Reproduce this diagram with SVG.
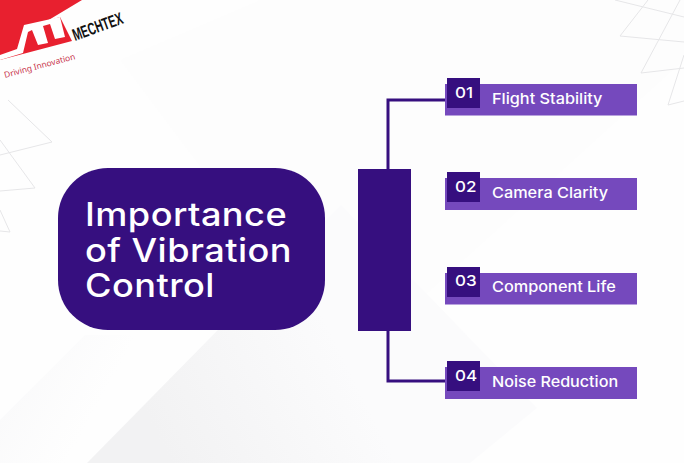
<svg xmlns="http://www.w3.org/2000/svg" width="684" height="463" viewBox="0 0 684 463">
<style>
text{font-family:"Inter","Noto Sans",sans-serif}
.card{fill:#7549bd}
.dark{fill:#360f7f}
.num{font-size:14.8px;font-weight:500;fill:#fff}
.lab{font-size:14.8px;font-weight:500;fill:#fff}
.title{font-size:32px;font-weight:500;letter-spacing:.4px;fill:#fff}
.conn{fill:none;stroke:#360f7f;stroke-width:3}
.bgl{fill:none;stroke:#e6e6e8;stroke-width:1}
</style>
<defs>
<linearGradient id="fade" x1="150" y1="420" x2="330" y2="330" gradientUnits="userSpaceOnUse"><stop offset="0" stop-color="#f2f2f3"/><stop offset="1" stop-color="#fbfbfc"/></linearGradient>
<linearGradient id="fadeL" x1="0" y1="370" x2="90" y2="420" gradientUnits="userSpaceOnUse"><stop offset="0" stop-color="#f9f9fa"/><stop offset="1" stop-color="#fefefe"/></linearGradient>
</defs>
<g id="background">
<rect width="684" height="463" fill="#fefefe"/>
<polygon points="120,60 260,0 684,0 684,60 420,300 300,300" fill="#fdfdfd"/>
<polygon points="0,420 85,335 160,335 70,463 0,463" fill="url(#fadeL)"/>
<polygon points="87,463 341,205 537,408 470,463" fill="url(#fade)"/>
<path class="bgl" d="M615,0 684,17M648,0 620,36 684,42M680,0 641,73 684,68M684,55 668,105 684,101"/>
<path class="bgl" d="M8,100 52,142 0,155M0,140 35,188 0,191M0,210 10,232 0,231"/>
</g>
<g id="logo">
<polygon points="0,0 82,0 47,21 60,17 72,41 0,60" fill="#e8202f"/>
<polygon points="0,55 17,49 24,25 60,17 65,37 55,39 50,24 43,26 48,43 38,45 32,30 28,32 23,53 0,60" fill="#fff"/>
<text transform="translate(75,41) rotate(-20) scale(.63,1)" font-size="17" font-weight="700" fill="#111" style="font-family:'Liberation Sans',sans-serif">MECHTEX</text>
<text transform="translate(5,78) rotate(-15)" font-size="8.4" fill="#c8334a" style="font-family:'Noto Sans',sans-serif">Driving Innovation</text>
</g>
<g id="connectors">
<path class="conn" d="M388,169V100H447"/>
<path class="conn" d="M388,331V381H447"/>
</g>
<g id="main">
<rect class="dark" x="58" y="168" width="267" height="162" rx="50"/>
<text class="title" transform="translate(85,226) scale(1.13,1)">Importance</text>
<text class="title" transform="translate(85,262) scale(1.13,1)">of Vibration</text>
<text class="title" transform="translate(85,297) scale(1.13,1)">Control</text>
</g>
<g id="hub"><rect class="dark" x="358" y="169" width="53" height="162"/></g>
<g id="item1">
<rect class="card" x="445" y="84" width="192" height="31.500"/>
<rect class="dark" x="447" y="78" width="33" height="30"/>
<text class="num" transform="translate(455,97.500) scale(1.15,1)">01</text>
<text class="lab" transform="translate(492,103.500) scale(1.1,1)">Flight Stability</text>
</g>
<g id="item2">
<rect class="card" x="445" y="178" width="192" height="32"/>
<rect class="dark" x="447" y="172" width="33" height="30"/>
<text class="num" transform="translate(455,192) scale(1.15,1)">02</text>
<text class="lab" transform="translate(492,198) scale(1.1,1)">Camera Clarity</text>
</g>
<g id="item3">
<rect class="card" x="445" y="273" width="192" height="31.500"/>
<rect class="dark" x="447" y="267" width="33" height="30"/>
<text class="num" transform="translate(455,286) scale(1.15,1)">03</text>
<text class="lab" transform="translate(492,292) scale(1.1,1)">Component Life</text>
</g>
<g id="item4">
<rect class="card" x="445" y="367" width="192" height="32"/>
<rect class="dark" x="447" y="361" width="33" height="30"/>
<text class="num" transform="translate(455,381) scale(1.15,1)">04</text>
<text class="lab" transform="translate(492,386.500) scale(1.09,1)">Noise Reduction</text>
</g>
</svg>
